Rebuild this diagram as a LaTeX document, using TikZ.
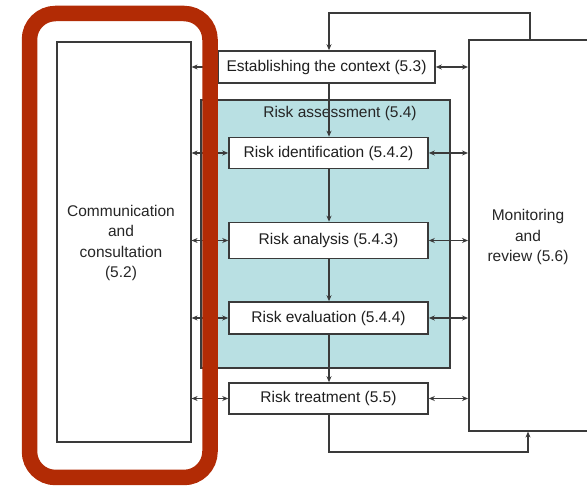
\documentclass[tikz,border=0pt]{standalone}
\usepackage{fontspec}
\setmainfont{Liberation Sans}
\usetikzlibrary{arrows.meta}
\definecolor{linegray}{HTML}{3A3A3A}
\definecolor{assessteal}{HTML}{B9E0E3}
\definecolor{framered}{HTML}{B22B05}
\tikzset{
  stepbox/.style={draw=linegray, line width=1.6pt, fill=white, minimum height=31pt,
    inner sep=0pt, font=\fontsize{15.5}{19}\selectfont, text=black!88},
  flow/.style={draw=linegray, line width=1.4pt, -{Stealth[length=6pt,width=5pt]}},
  link/.style={draw=linegray, line width=1.4pt, {Stealth[length=6pt,width=5pt]}-{Stealth[length=6pt,width=5pt]}},
  label/.style={font=\fontsize{15.5}{20.5}\selectfont, text=black!85, align=center}
}
\begin{document}
\begin{tikzpicture}[x=1pt,y=-1pt]
  \useasboundingbox (0,0) rectangle (587,486);

  % risk assessment region
  \node[draw=linegray, line width=1.6pt, fill=assessteal, minimum width=249pt, minimum height=268pt,
        inner sep=0pt, anchor=north west] (ra) at (200,99) {};
  \node[label] (ratitle) at (340,113) {Risk assessment (5.4)};

  % side boxes
  \node[draw=linegray, line width=1.6pt, fill=white, minimum width=134pt, minimum height=400pt,
        inner sep=0pt, anchor=north west] (cc) at (56,41) {};
  \node[label, text width=130pt] (cctext) at (121,243)
        {Communication\\ and\\ consultation\\ (5.2)};
  \node[draw=linegray, line width=1.6pt, fill=white, minimum width=150pt, minimum height=391pt,
        inner sep=0pt, anchor=north west] (mr) at (468,39) {};
  \node[label] (mrtext) at (528,237) {Monitoring\\ and\\ review (5.6)};

  % process steps
  \node[stepbox, minimum width=217pt, minimum height=32pt] (ctx) at (326.5,67) {Establishing the context (5.3)};
  \node[stepbox, minimum width=199pt] (rid) at (328.5,153) {Risk identification (5.4.2)};
  \node[stepbox, minimum width=199pt, minimum height=36pt] (ran) at (328.5,240.5) {Risk analysis (5.4.3)};
  \node[stepbox, minimum width=199pt, minimum height=32pt] (rev) at (328.5,318) {Risk evaluation (5.4.4)};
  \node[stepbox, minimum width=199pt] (rtr) at (328.5,398.5) {Risk treatment (5.5)};

  % main flow
  \coordinate (c1) at (329,0);
  \draw[flow] (ctx.south -| c1) -- (rid.north -| c1);
  \draw[flow] (rid.south -| c1) -- (ran.north -| c1);
  \draw[flow] (ran.south -| c1) -- (rev.north -| c1);
  \draw[flow] (rev.south -| c1) -- (rtr.north -| c1);

  % feedback loops through monitoring and review
  \coordinate (topy) at (0,13);
  \coordinate (boty) at (0,452);
  \coordinate (mx1) at (530,0);
  \coordinate (mx2) at (528,0);
  \draw[flow] (mr.north -| mx1) |- (topy -| c1) -- (ctx.north -| c1);
  \draw[flow] (rtr.south -| c1) |- (boty -| mx2) -- (mr.south -| mx2);

  % links to communication and consultation
  \foreach \n in {ctx,rid,ran,rev,rtr}{
    \draw[link] (cc.east |- \n.west) -- (\n.west);
    \draw[link] (\n.east) -- (mr.west |- \n.east);
  }

  % highlight frame
  \draw[framered, line width=15.5pt, rounded corners=26pt] (29.5,13.5) rectangle (210,477.5);
\end{tikzpicture}
\end{document}
